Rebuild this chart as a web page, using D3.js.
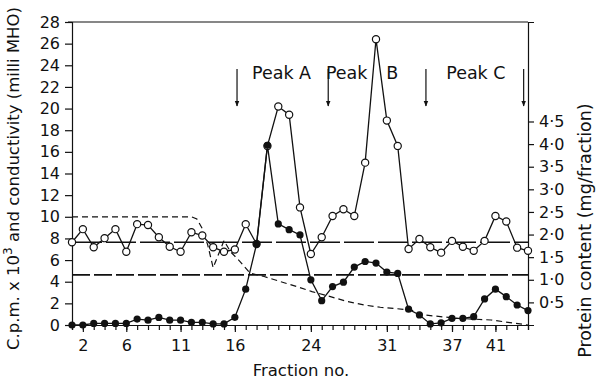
<!DOCTYPE html>
<html>
<head>
<meta charset="utf-8">
<script src="https://cdn.jsdelivr.net/npm/d3@7"></script>
<style>
  body { margin: 0; background: #fff; }
  svg text { font-family: "DejaVu Sans", sans-serif; fill: #111; }
</style>
</head>
<body>
<div id="chart"></div>
<script>
// fraction axis: points are evenly spaced, fraction 17 is missing
const tickIdx = [1, 5, 10, 15, 22, 29, 35, 39];
const tickLabels = ["2", "6", "11", "16", "24", "31", "37", "41"];

// c.p.m. x 10^3 (filled circles), one per point 0..42
const cpm = [0, 0, 0.15, 0.15, 0.15, 0.15, 0.55, 0.45, 0.7, 0.45, 0.45, 0.25, 0.25, 0.1, 0.1,
    0.71, 3.31, 7.48, 16.6, 9.34, 8.81, 8.32, 4.17, 2.25, 3.55, 3.96, 5.35, 5.87, 5.72,
    4.89, 4.77, 1.46, 0.93, 0.1, 0.2, 0.62, 0.62, 0.77, 2.41, 3.31, 2.62, 1.85, 1.33];

// protein content mg/fraction (open circles)
const protein = [1.83, 2.12, 1.72, 1.92, 2.12, 1.62, 2.23, 2.21, 1.94, 1.73, 1.62, 2.05, 1.98, 1.72,
    1.62, 1.67, 2.23, 1.79, 3.96, 4.83, 4.65, 2.60, 1.57, 1.94, 2.41, 2.56, 2.41, 3.59, 6.32,
    4.52, 3.96, 1.68, 1.90, 1.72, 1.60, 1.86, 1.73, 1.64, 1.86, 2.41, 2.29, 1.71, 1.64];

// conductivity (milli MHO), dashed trace: position / value
const condPos = [0, 11, 11.5, 12, 12.5, 13, 14, 14.6, 15.5, 16.4, 17.7, 19.2, 20.7, 22.1, 23.8,
    25.4, 26.9, 28.4, 31.2, 32.4, 35.5, 38.6, 42];
const condVal = [10, 10, 9.8, 8.9, 7.4, 5.3, 7.8, 6.77, 5.84, 4.79, 4.48, 4.01, 3.55, 3.09, 2.62,
    2.16, 1.85, 1.64, 1.39, 0.93, 0.62, 0.46, 0];

// horizontal reference lines (left axis units)
const refLines = [7.65, 4.63];

// peak boundary arrows and labels (point positions)
const arrowPos = [15.2, 23.6, 32.6, 41.6];
const peakNames = ["Peak A", "Peak", "B", "Peak C"];
const peakPos = [19.3, 25.3, 29.5, 37.2];

const leftTicks = d3.range(0, 29, 2);
const rightTicks = [0.5, 1.0, 1.5, 2.0, 2.5, 3.0, 3.5, 4.0, 4.5];

const W = 599, H = 381;
const margin = {top: 22, right: 71, bottom: 56, left: 72};
const width = W - margin.left - margin.right,
    height = H - margin.top - margin.bottom;

const svg = d3.select("#chart").append("svg")
    .attr("width", W).attr("height", H)
    .append("g")
    .attr("transform", "translate(" + margin.left + "," + margin.top + ")");

const x = d3.scaleLinear().domain([0, 42]).range([0, width]);
const y = d3.scaleLinear().domain([0, 28]).range([height, 0]);
const y2 = d3.scaleLinear().domain([0, 6.7]).range([height, 0]);

// frame top
svg.append("line")
    .attr("x1", -4).attr("x2", width).attr("y1", 0).attr("y2", 0)
    .attr("stroke", "#111").attr("stroke-width", 1.2);

// left axis
const gl = svg.append("g")
    .call(d3.axisLeft(y).tickValues(leftTicks).tickSize(7).tickPadding(5).tickFormat(d3.format("d")));
gl.selectAll("text").style("font-size", "16px");

// right axis
const gr = svg.append("g")
    .attr("transform", "translate(" + width + ",0)")
    .call(d3.axisRight(y2).tickValues(rightTicks).tickSize(6).tickPadding(5)
        .tickFormat(d => d3.format(".1f")(d).replace(".", "\u00b7")));
gr.selectAll("text").style("font-size", "16px");

// bottom axis: minor ticks at every point, labelled ticks longer
const gb = svg.append("g")
    .attr("transform", "translate(0," + height + ")")
    .call(d3.axisBottom(x).tickValues(d3.range(0, 43)).tickSize(5).tickFormat(""));
const gb2 = svg.append("g")
    .attr("transform", "translate(0," + height + ")")
    .call(d3.axisBottom(x).tickValues(tickIdx).tickSize(7).tickPadding(8)
        .tickFormat((d, i) => tickLabels[i]));
gb2.select(".domain").remove();
gb2.selectAll("text").style("font-size", "16px");

svg.selectAll(".domain, .tick line").attr("stroke", "#111").attr("stroke-width", 1.2);

// axis titles
svg.append("text")
    .attr("transform", "translate(" + (-53) + "," + (height / 2 + 5) + ") rotate(-90)")
    .attr("text-anchor", "middle")
    .style("font-size", "16.5px")
    .html("C.p.m. x 10<tspan dy='-7' font-size='12px'>3</tspan><tspan dy='7'> and conductivity (milli MHO)</tspan>");

svg.append("text")
    .attr("transform", "translate(" + (width + 63) + "," + (height / 2 + 57) + ") rotate(-90)")
    .attr("text-anchor", "middle")
    .style("font-size", "17.5px")
    .text("Protein content (mg/fraction)");

svg.append("text")
    .attr("x", width / 2 + 1).attr("y", height + 51)
    .attr("text-anchor", "middle")
    .style("font-size", "16.5px")
    .text("Fraction no.");

// reference lines
svg.selectAll(".ref")
    .data(refLines)
    .enter().append("line")
    .attr("class", "ref")
    .attr("x1", 0).attr("x2", width)
    .attr("y1", d => y(d)).attr("y2", d => y(d))
    .attr("stroke", "#111").attr("stroke-width", 1.6)
    .attr("stroke-dasharray", (d, i) => i === 0 ? "30,4" : "18,4");

// conductivity dashed trace
const cond = condPos.map((p, i) => [p, condVal[i]]);
svg.append("path")
    .datum(cond)
    .attr("fill", "none")
    .attr("stroke", "#111").attr("stroke-width", 1.2)
    .attr("stroke-dasharray", "6,4")
    .attr("d", d3.line().x(d => x(d[0])).y(d => y(d[1])));

// protein (open circles)
svg.append("path")
    .datum(protein)
    .attr("fill", "none").attr("stroke", "#111").attr("stroke-width", 1.3)
    .attr("d", d3.line().x((d, i) => x(i)).y(d => y2(d)));

// cpm (filled circles)
svg.append("path")
    .datum(cpm)
    .attr("fill", "none").attr("stroke", "#111").attr("stroke-width", 1.3)
    .attr("d", d3.line().x((d, i) => x(i)).y(d => y(d)));

svg.selectAll(".open")
    .data(protein)
    .enter().append("circle")
    .attr("class", "open")
    .attr("cx", (d, i) => x(i)).attr("cy", d => y2(d))
    .attr("r", 3.6)
    .attr("fill", "#fff").attr("stroke", "#111").attr("stroke-width", 1.2);

svg.selectAll(".filled")
    .data(cpm)
    .enter().append("circle")
    .attr("class", "filled")
    .attr("cx", (d, i) => x(i)).attr("cy", d => y(d))
    .attr("r", 3.6)
    .attr("fill", "#111");

// peak arrows
svg.append("defs").append("marker")
    .attr("id", "head")
    .attr("viewBox", "0 0 10 10")
    .attr("refX", 9).attr("refY", 5)
    .attr("markerWidth", 5).attr("markerHeight", 5)
    .attr("orient", "auto")
    .append("path").attr("d", "M0,1 L10,5 L0,9 Z").attr("fill", "#111");

svg.selectAll(".arrow")
    .data(arrowPos)
    .enter().append("line")
    .attr("class", "arrow")
    .attr("x1", d => x(d)).attr("x2", d => x(d))
    .attr("y1", 47).attr("y2", 84)
    .attr("stroke", "#111").attr("stroke-width", 1.2)
    .attr("marker-end", "url(#head)");

svg.selectAll(".peak")
    .data(peakNames)
    .enter().append("text")
    .attr("class", "peak")
    .attr("x", (d, i) => x(peakPos[i])).attr("y", 57)
    .attr("text-anchor", "middle")
    .style("font-size", "17.5px")
    .text(d => d);
</script>
</body>
</html>
